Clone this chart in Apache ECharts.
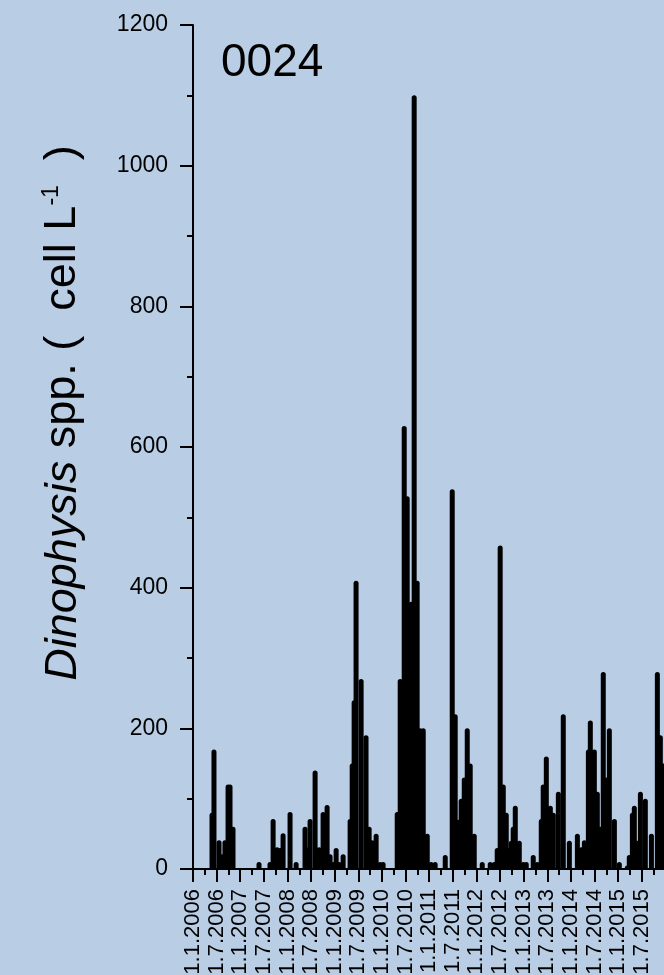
<!DOCTYPE html>
<html>
<head>
<meta charset="utf-8">
<script src="https://cdn.jsdelivr.net/npm/echarts@6/dist/echarts.min.js"></script>
<style>
html,body{margin:0;padding:0;background:#b9cde5;}
#chart{width:664px;height:975px;}
</style>
</head>
<body>
<div id="chart"></div>
<script>
// Sampling dates and Dinophysis spp. counts (cell L-1), station 0024
const sampleDates = [
'2006-05-28','2006-06-12','2006-07-21','2006-08-13','2006-09-05','2006-09-29','2006-10-14','2006-11-06',
'2007-05-26','2007-08-19','2007-09-12','2007-10-13','2007-11-05','2007-11-28',
'2008-01-21','2008-03-08','2008-05-16','2008-06-08','2008-06-24','2008-08-02','2008-09-02','2008-10-03','2008-11-03','2008-11-26','2008-12-20',
'2009-01-12','2009-02-04','2009-03-07','2009-04-30','2009-05-16','2009-05-31','2009-06-15','2009-07-24','2009-08-31','2009-09-24','2009-10-17','2009-11-17','2009-12-18',
'2010-01-10','2010-04-29','2010-05-22','2010-06-22','2010-07-15','2010-07-30','2010-08-15','2010-09-07','2010-09-30','2010-10-23','2010-11-16','2010-12-17',
'2011-01-16','2011-02-16','2011-05-05','2011-06-28','2011-07-21','2011-08-13','2011-09-05','2011-09-29','2011-10-22','2011-11-14','2011-12-15',
'2012-02-15','2012-04-17','2012-05-18','2012-06-10','2012-07-03','2012-07-27','2012-08-19','2012-09-11','2012-09-27','2012-10-12','2012-10-28','2012-11-28','2012-12-29',
'2013-01-21','2013-03-16','2013-04-16','2013-05-17','2013-06-01','2013-06-25','2013-07-26','2013-08-18','2013-09-26','2013-11-03','2013-12-20',
'2014-02-20','2014-03-22','2014-04-15','2014-05-16','2014-05-31','2014-07-01','2014-07-24','2014-08-16','2014-09-08','2014-10-02','2014-10-25','2014-12-03',
'2015-01-10','2015-03-13','2015-03-28','2015-04-21','2015-05-06','2015-05-30','2015-06-22','2015-07-30','2015-09-15','2015-10-31','2015-11-23','2015-12-17'
];
const cellCounts = [
80,170,41,21,41,120,120,60,
10,10,71,31,30,51,
81,10,60,31,71,140,31,81,91,21,10,
30,10,21,71,150,240,410,270,190,60,41,50,10,
10,81,270,630,530,330,380,1100,410,200,200,50,
10,10,20,540,220,70,100,130,200,150,50,
10,10,10,30,460,120,80,30,40,60,90,40,10,
10,20,10,71,120,160,90,80,110,220,40,
50,31,41,170,211,170,110,60,280,130,200,71,
10,5,20,80,90,40,110,100,50,280,190,150
];
const stationLabel = '0024';
const yTicks = {min: 0, max: 1200, step: 200};
const xRange = {start: 2006, end: 2016.5, step: 0.5, lastLabel: 2015.5};

function toYear(d) {
  const p = d.split('-').map(Number);
  const s = Date.UTC(p[0], 0, 1), e = Date.UTC(p[0] + 1, 0, 1);
  return p[0] + (Date.UTC(p[0], p[1] - 1, p[2]) - s) / (e - s);
}
const seriesData = sampleDates.map((d, i) => [toYear(d), cellCounts[i]]);

const FONT = 'Liberation Sans, Arial, sans-serif';
const chart = echarts.init(document.getElementById('chart'), null, {renderer: 'canvas'});
chart.setOption({
  backgroundColor: '#b9cde5',
  animation: false,
  grid: {left: 193, top: 25, bottom: 106, right: -25, containLabel: false, outerBoundsMode: 'none'},
  xAxis: {
    type: 'value',
    min: xRange.start, max: xRange.end, interval: xRange.step,
    axisLine: {show: true, onZero: false, lineStyle: {color: '#000', width: 2}},
    axisTick: {show: true, inside: false, length: 13, lineStyle: {color: '#000', width: 2}},
    minorTick: {show: true, splitNumber: 2, length: 6, lineStyle: {color: '#000', width: 2}},
    splitLine: {show: false},
    axisLabel: {
      rotate: 90, margin: 20, fontSize: 22, color: '#000', fontFamily: FONT,
      hideOverlap: false,
      formatter: function (v) {
        if (v > xRange.lastLabel + 1e-6) return '';
        const y = Math.floor(v + 1e-6);
        const half = (v - y) > 0.25 ? 7 : 1;
        return '1.' + half + '.' + y;
      }
    }
  },
  yAxis: {
    type: 'value',
    min: yTicks.min, max: yTicks.max, interval: yTicks.step,
    axisLine: {show: true, lineStyle: {color: '#000', width: 2}},
    axisTick: {show: true, inside: false, length: 13, lineStyle: {color: '#000', width: 2}},
    minorTick: {show: true, splitNumber: 2, length: 6, lineStyle: {color: '#000', width: 2}},
    splitLine: {show: false},
    axisLabel: {margin: 25, fontSize: 23, color: '#000', fontFamily: FONT,
      formatter: function (v) { return String(v); }}
  },
  series: [{
    type: 'bar',
    data: seriesData,
    barWidth: 5,
    itemStyle: {color: '#000', borderRadius: [2.5, 2.5, 0, 0]},
    silent: true
  }],
  graphic: [
    {
      type: 'text', left: 221, top: 40,
      style: {text: stationLabel, fontSize: 46, fill: '#000', fontFamily: FONT}
    },
    {
      type: 'text', x: 63, y: 413, rotation: Math.PI / 2,
      style: {
        text: '{i|Dinophysis}{t| spp. (  cell L}{sup|-1}{t|  )}',
        align: 'center', verticalAlign: 'middle',
        fontSize: 45, fill: '#000', fontFamily: FONT,
        rich: {
          i: {fontStyle: 'italic', fontSize: 45, lineHeight: 45, fontFamily: FONT, fill: '#000', verticalAlign: 'bottom'},
          t: {fontSize: 45, lineHeight: 45, fontFamily: FONT, fill: '#000', verticalAlign: 'bottom'},
          sup: {fontSize: 23, lineHeight: 23, fontFamily: FONT, verticalAlign: 'top', fill: '#000', padding: [0, 0, 35, 0]}
        }
      }
    }
  ]
});
</script>
</body>
</html>
